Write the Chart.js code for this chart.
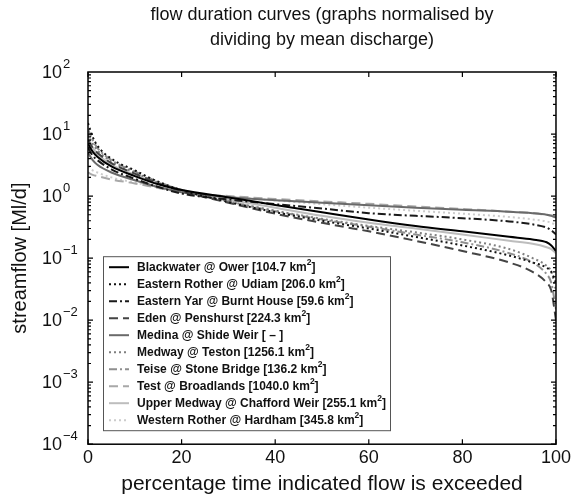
<!DOCTYPE html>
<html>
<head>
<meta charset="utf-8">
<script src="https://cdn.jsdelivr.net/npm/chart.js@4"></script>
<style>
  body { margin: 0; background: #fff; }
  #wrap { width: 574px; height: 500px; }
</style>
</head>
<body>
<div id="wrap"><canvas id="myChart" width="574" height="500"></canvas></div>
<script>
// percentage of time flow is exceeded
const flowPct = [0, 1, 2, 5, 10, 15, 20, 30, 40, 50, 60, 70, 80, 90, 95, 98, 99, 100];

// normalised flows (Q / mean Q)
const blackwater    = [7.0, 5.2, 4.3, 3.0, 2.1, 1.55, 1.25, 0.95, 0.72, 0.55, 0.42, 0.33, 0.27, 0.22, 0.20, 0.18, 0.16, 0.13];
const easternRother = [15, 9.0, 6.5, 4.0, 2.6, 1.7, 1.25, 0.80, 0.55, 0.40, 0.30, 0.22, 0.16, 0.11, 0.085, 0.07, 0.06, 0.04];
const easternYar    = [6.0, 4.5, 3.8, 2.7, 1.9, 1.4, 1.1, 0.88, 0.74, 0.63, 0.53, 0.48, 0.44, 0.39, 0.35, 0.31, 0.28, 0.24];
const eden          = [8.0, 6.0, 5.0, 3.4, 2.3, 1.6, 1.2, 0.78, 0.52, 0.37, 0.27, 0.19, 0.13, 0.085, 0.06, 0.04, 0.03, 0.01];
const medina        = [5.0, 3.8, 3.2, 2.4, 1.8, 1.4, 1.15, 0.97, 0.86, 0.78, 0.71, 0.65, 0.60, 0.56, 0.53, 0.50, 0.48, 0.45];
const medway        = [10, 7.0, 5.5, 3.6, 2.4, 1.65, 1.25, 0.82, 0.58, 0.43, 0.33, 0.26, 0.20, 0.14, 0.10, 0.075, 0.06, 0.03];
const teise         = [12, 8.0, 6.0, 3.8, 2.5, 1.7, 1.25, 0.82, 0.57, 0.42, 0.32, 0.24, 0.18, 0.12, 0.085, 0.055, 0.04, 0.015];
const test          = [2.4, 2.2, 2.1, 1.85, 1.6, 1.35, 1.15, 1.0, 0.90, 0.82, 0.75, 0.68, 0.62, 0.56, 0.53, 0.50, 0.49, 0.47];
const upperMedway   = [9.0, 6.0, 4.8, 3.2, 2.2, 1.6, 1.25, 0.88, 0.65, 0.48, 0.37, 0.30, 0.24, 0.19, 0.17, 0.15, 0.14, 0.12];
const westernRother = [3.0, 2.6, 2.4, 2.0, 1.65, 1.38, 1.18, 0.98, 0.85, 0.74, 0.65, 0.58, 0.52, 0.46, 0.42, 0.39, 0.37, 0.34];

const seriesNames = [
    'Blackwater @ Ower [104.7 km²]',
    'Eastern Rother @ Udiam [206.0 km²]',
    'Eastern Yar @ Burnt House [59.6 km²]',
    'Eden @ Penshurst [224.3 km²]',
    'Medina @ Shide Weir [ – ]',
    'Medway @ Teston [1256.1 km²]',
    'Teise @ Stone Bridge [136.2 km²]',
    'Test @ Broadlands [1040.0 km²]',
    'Upper Medway @ Chafford Weir [255.1 km²]',
    'Western Rother @ Hardham [345.8 km²]'
];
const seriesValues = [blackwater, easternRother, easternYar, eden, medina, medway, teise, test, upperMedway, westernRother];

const yTickPowers = [-4, -3, -2, -1, 0, 1, 2];
const xTickValues = [0, 20, 40, 60, 80, 100];

const FONT = "'Liberation Sans', Arial, Helvetica, sans-serif";

// line look for each series (same order as above)
const styles = [
    { color: '#000000', dash: [], width: 2 },
    { color: '#111111', dash: [2, 3], width: 2 },
    { color: '#1a1a1a', dash: [8, 3, 2, 3], width: 2 },
    { color: '#444444', dash: [9, 5], width: 2 },
    { color: '#6a6a6a', dash: [], width: 2 },
    { color: '#7f7f7f', dash: [2, 3], width: 2 },
    { color: '#8f8f8f', dash: [8, 3, 2, 3], width: 2 },
    { color: '#a8a8a8', dash: [9, 5], width: 2 },
    { color: '#bdbdbd', dash: [], width: 2 },
    { color: '#cccccc', dash: [2, 3], width: 2 }
];

function toPoints(values) {
    return flowPct.map((x, i) => ({ x: x, y: values[i] }));
}

function superText(ctx, x, y, text, size, supSize, weight) {
    // '²' in a label is drawn as a small raised 2
    let parts = text.split('²');
    let cx = x;
    for (let i = 0; i < parts.length; i++) {
        ctx.font = weight + ' ' + size + 'px ' + FONT;
        ctx.fillText(parts[i], cx, y);
        cx += ctx.measureText(parts[i]).width;
        if (i < parts.length - 1) {
            ctx.font = weight + ' ' + supSize + 'px ' + FONT;
            ctx.fillText('2', cx, y - size * 0.4);
            cx += ctx.measureText('2').width;
        }
    }
}

const axesBox = {
    id: 'axesBox',
    afterDatasetsDraw(chart) {
        const ctx = chart.ctx;
        const a = chart.chartArea;
        const xs = chart.scales.x;
        const ys = chart.scales.y;
        ctx.save();
        ctx.strokeStyle = '#000';
        ctx.lineWidth = 1.5;
        ctx.strokeRect(a.left, a.top, a.right - a.left, a.bottom - a.top);
        ctx.lineWidth = 1.2;
        ctx.beginPath();
        xTickValues.forEach(v => {
            let px = xs.getPixelForValue(v);
            ctx.moveTo(px, a.bottom); ctx.lineTo(px, a.bottom - 5);
            ctx.moveTo(px, a.top); ctx.lineTo(px, a.top + 5);
        });
        for (let p = -4; p < 2; p++) {
            for (let m = 1; m < 10; m++) {
                let py = ys.getPixelForValue(m * Math.pow(10, p));
                let len = m === 1 ? 5 : 3;
                ctx.moveTo(a.left, py); ctx.lineTo(a.left + len, py);
                ctx.moveTo(a.right, py); ctx.lineTo(a.right - len, py);
            }
        }
        ctx.stroke();

        // y tick labels 10^n
        ctx.fillStyle = '#111';
        ctx.textBaseline = 'middle';
        ctx.textAlign = 'left';
        yTickPowers.forEach(p => {
            let py = ys.getPixelForValue(Math.pow(10, p));
            ctx.font = '18px ' + FONT;
            let lx = 42;
            ctx.fillText('10', lx, py + 1);
            let w = ctx.measureText('10').width;
            ctx.font = '13px ' + FONT;
            ctx.fillText(p < 0 ? '\u2212' + (-p) : String(p), lx + w + 1, py - 8);
        });
        ctx.restore();
    }
};

const legendBox = {
    id: 'legendBox',
    afterDraw(chart) {
        const ctx = chart.ctx;
        const a = chart.chartArea;
        const left = a.left + 15;
        const bottom = a.bottom - 14;
        const width = 287;
        const rowH = 17;
        const height = 174;
        const top = bottom - height;
        ctx.save();
        ctx.fillStyle = '#fff';
        ctx.fillRect(left, top, width, height);
        ctx.strokeStyle = '#555';
        ctx.lineWidth = 1;
        ctx.strokeRect(left + 0.5, top + 0.5, width, height);
        chart.data.datasets.forEach((ds, i) => {
            let y = top + 11 + i * rowH;
            ctx.strokeStyle = ds.borderColor;
            ctx.lineWidth = ds.borderWidth;
            ctx.setLineDash(ds.borderDash);
            ctx.beginPath();
            ctx.moveTo(left + 6, y);
            ctx.lineTo(left + 26, y);
            ctx.stroke();
            ctx.setLineDash([]);
            ctx.fillStyle = '#111';
            ctx.textBaseline = 'middle';
            ctx.textAlign = 'left';
            superText(ctx, left + 34, y, ds.label, 12, 8.5, 'bold');
        });
        ctx.restore();
    }
};

function makeChart() {
    const ctx = document.getElementById('myChart');
    new Chart(ctx, {
        type: 'line',
        data: {
            datasets: seriesValues.map((vals, i) => ({
                label: seriesNames[i],
                data: toPoints(vals),
                borderColor: styles[i].color,
                borderDash: styles[i].dash,
                borderWidth: styles[i].width,
                pointRadius: 0,
                fill: false,
                cubicInterpolationMode: 'monotone'
            }))
        },
        options: {
            responsive: false,
            animation: false,
            devicePixelRatio: 1,
            layout: { padding: { left: 6, right: 17, top: 0, bottom: 2 } },
            plugins: {
                legend: { display: false },
                tooltip: { enabled: false },
                title: {
                    display: true,
                    fullSize: false,
                    text: ['flow duration curves (graphs normalised by', 'dividing by mean discharge)'],
                    color: '#111',
                    font: { family: FONT, size: 18, weight: 'normal', lineHeight: 25 / 18 },
                    padding: { top: 3, bottom: 19 }
                }
            },
            scales: {
                x: {
                    type: 'linear',
                    min: 0,
                    max: 100,
                    grid: { display: false, drawTicks: false, tickLength: 0 },
                    border: { display: false },
                    ticks: {
                        stepSize: 20,
                        padding: 3,
                        color: '#111',
                        font: { family: FONT, size: 18 }
                    },
                    title: {
                        display: true,
                        text: 'percentage time indicated flow is exceeded',
                        color: '#111',
                        font: { family: FONT, size: 21 },
                        padding: { top: 0, bottom: 1 }
                    }
                },
                y: {
                    type: 'logarithmic',
                    min: 1e-4,
                    max: 100,
                    grid: { display: false, drawTicks: false, tickLength: 0 },
                    border: { display: false },
                    ticks: { display: false },
                    title: {
                        display: true,
                        text: 'streamflow [Ml/d]',
                        color: '#111',
                        font: { family: FONT, size: 20 },
                        padding: { top: 2, bottom: 4 }
                    },
                    afterFit(scale) {
                        scale.width = 82;
                    }
                }
            }
        },
        plugins: [axesBox, legendBox]
    });
}

makeChart();
</script>
</body>
</html>
